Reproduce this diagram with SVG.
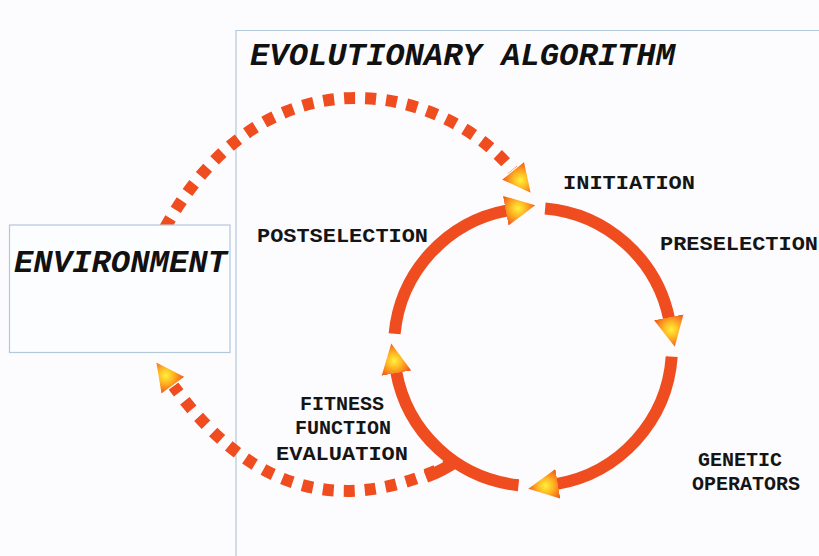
<svg xmlns="http://www.w3.org/2000/svg" width="819" height="556" viewBox="0 0 819 556">
  <style>
    .frame { fill: none; stroke: #b3c9da; stroke-width: 1.2; }
    .box { fill: #fcfdfe; stroke: #b3c9da; stroke-width: 1.2; }
    .title { font-family: "Liberation Mono", "Courier New", monospace; font-weight: bold; font-style: italic; font-size: 31px; fill: #111; }
    .label { font-family: "Liberation Mono", "Courier New", monospace; font-weight: bold; font-size: 20px; fill: #151515; }
    .ring { fill: none; stroke: #ef4d1f; stroke-width: 12; marker-end: url(#head); }
    .dash { fill: none; stroke: #ef4d1f; stroke-width: 12; stroke-dasharray: 11 10; marker-end: url(#headDash); }
    .solid { fill: none; stroke: #ef4d1f; stroke-width: 12; }
  </style>
  <defs>
    <radialGradient id="fire" cx="0.42" cy="0.5" r="0.6">
      <stop offset="0" stop-color="#fff23a"/>
      <stop offset="0.45" stop-color="#ffb323"/>
      <stop offset="1" stop-color="#f25a1c"/>
    </radialGradient>
    <marker id="head" markerUnits="userSpaceOnUse" markerWidth="32" markerHeight="32" viewBox="0 0 32 32" refX="2" refY="16" orient="auto">
      <path d="M0,1 L30,16 L0,31 Z" fill="url(#fire)"/>
    </marker>
    <marker id="headDash" markerUnits="userSpaceOnUse" markerWidth="34" markerHeight="34" viewBox="-1 -1 34 34" refX="2" refY="16" orient="auto">
      <path d="M0,1 L30,16 L0,31 Z" fill="url(#fire)" stroke="#ffffff" stroke-width="1.2"/>
    </marker>
  </defs>

  <rect x="0" y="0" width="819" height="556" fill="#fcfcfe"/>

  <!-- algorithm frame -->
  <g id="frame">
    <path class="frame" d="M236,556 V30.5 H819"/>
    <text class="title" x="250" y="65" textLength="425" lengthAdjust="spacingAndGlyphs">EVOLUTIONARY ALGORITHM</text>
  </g>

  <g id="connectors">
    <!-- environment to initiation (dashed) -->
    <path class="dash" d="M165,228 C268,42 445,86 514,172"/>
  </g>

  <g id="environment">
    <rect class="box" x="9.5" y="225" width="220.5" height="127.5"/>
    <text class="title" x="14" y="272" textLength="213" lengthAdjust="spacingAndGlyphs">ENVIRONMENT</text>
  </g>

  <g id="cycle">
    <!-- four quarter arcs of the loop, clockwise -->
    <path class="ring" d="M545.1,208.5 A139,139 0 0 1 669.2,319.3"/>
    <path class="ring" d="M671.7,356.7 A139,139 0 0 1 555.9,484.1"/>
    <path class="ring" d="M518.5,485.2 A139,139 0 0 1 396.1,371.1"/>
    <path class="ring" d="M394.6,333.7 A139,139 0 0 1 507.7,210.3"/>
  </g>

  <g id="feedback">
    <!-- evaluation back to environment (dashed) -->
    <path class="dash" d="M455,462 C364,507 265,512 172,384"/>
    <path class="solid" d="M426,477 Q444,470 458,460"/>
  </g>

  <g id="initiation"><text class="label" x="563" y="189" textLength="132" lengthAdjust="spacingAndGlyphs">INITIATION</text></g>
  <g id="preselection"><text class="label" x="660" y="250" textLength="158" lengthAdjust="spacingAndGlyphs">PRESELECTION</text></g>
  <g id="postselection"><text class="label" x="257" y="242" textLength="171" lengthAdjust="spacingAndGlyphs">POSTSELECTION</text></g>
  <g id="genetic-operators">
    <text class="label" x="740" y="466" text-anchor="middle">GENETIC</text>
    <text class="label" x="746" y="490" text-anchor="middle">OPERATORS</text>
  </g>
  <g id="fitness-evaluation">
    <text class="label" x="342" y="410" text-anchor="middle">FITNESS</text>
    <text class="label" x="343" y="434" text-anchor="middle">FUNCTION</text>
    <text class="label" x="342" y="460" text-anchor="middle" textLength="132" lengthAdjust="spacingAndGlyphs">EVALUATION</text>
  </g>
</svg>
